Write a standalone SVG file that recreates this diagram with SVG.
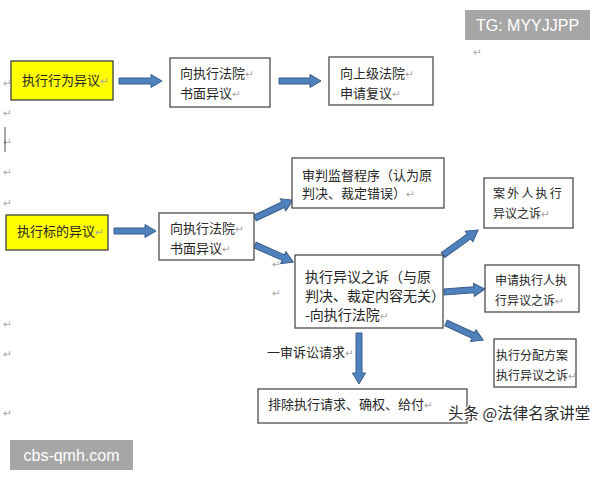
<svg xmlns="http://www.w3.org/2000/svg" width="600" height="480" viewBox="0 0 600 480">
<style>
.bg{fill:#ffffff}
.box{fill:#ffffff;stroke:#4d4d4d;stroke-width:1.3}
.ybox{fill:#ffff00;stroke:#404040;stroke-width:1.3}
.t{font-family:"Noto Sans CJK SC","Liberation Serif",serif;fill:#262626;font-size:13px}
.s{font-size:12px}
.b{font-size:14px}
.pm{font-family:"DejaVu Sans",sans-serif;font-size:10.5px;fill:#a6a6a6}
.arr{fill:#4f81bd;stroke:#385d8a;stroke-width:1}
.wm{fill:#a6a6a6}
.wmt{font-family:"Liberation Sans",Arial,sans-serif;fill:#ffffff;font-size:16px}
.tt{font-family:"Noto Sans CJK SC",sans-serif;font-size:15.5px;fill:#2b2b2b;stroke:#ffffff;stroke-width:2;paint-order:stroke}
</style>
<rect class="bg" x="0" y="0" width="600" height="480"/>

<g id="marks">
<text class="pm" x="3" y="87">↵</text>
<text class="pm" x="3" y="117">↵</text>
<text class="pm" x="3" y="146">↵</text>
<line x1="5" y1="127" x2="5" y2="152" stroke="#555" stroke-width="1"/>
<text class="pm" x="3" y="176">↵</text>
<text class="pm" x="3" y="207">↵</text>
<text class="pm" x="3" y="328">↵</text>
<text class="pm" x="3" y="358">↵</text>
<text class="pm" x="3" y="417">↵</text>
<text class="pm" x="473" y="56">↵</text>
<text class="pm" x="272" y="268">↵</text>
<text class="pm" x="272" y="297">↵</text>
</g>

<g id="connectors">
<polygon class="arr" transform="translate(119,81)" points="0,-3 32,-3 32,-6.5 43,0 32,6.5 32,3 0,3"/>
<polygon class="arr" transform="translate(279,81)" points="0,-3 31,-3 31,-6.5 42,0 31,6.5 31,3 0,3"/>
<polygon class="arr" transform="translate(114,231)" points="0,-3 31,-3 31,-6.5 42,0 31,6.5 31,3 0,3"/>
<polygon class="arr" transform="translate(255,218) rotate(-25.3)" points="0,-3 31,-3 31,-6.5 42,0 31,6.5 31,3 0,3"/>
<polygon class="arr" transform="translate(255,245) rotate(24.1)" points="0,-3 31,-3 31,-6.5 42,0 31,6.5 31,3 0,3"/>
<polygon class="arr" transform="translate(443,255) rotate(-35.5)" points="0,-3 32,-3 32,-6.5 43,0 32,6.5 32,3 0,3"/>
<polygon class="arr" transform="translate(444,292) rotate(-4.2)" points="0,-3 30,-3 30,-6.5 41,0 30,6.5 30,3 0,3"/>
<polygon class="arr" transform="translate(446,323) rotate(24.7)" points="0,-3 30,-3 30,-6.5 41,0 30,6.5 30,3 0,3"/>
<polygon class="arr" transform="translate(359,333) rotate(90)" points="0,-3 40,-3 40,-6.5 51,0 40,6.5 40,3 0,3"/>
<text class="t" x="267" y="357" font-size="11">一审诉讼请求<tspan class="pm">↵</tspan></text>
</g>

<g id="n1">
<rect class="ybox" x="11" y="61" width="102" height="39"/>
<text class="t" x="22" y="85">执行行为异议<tspan class="pm">↵</tspan></text>
</g>
<g id="n2">
<rect class="box" x="170" y="58" width="100" height="49"/>
<text class="t" x="180" y="78">向执行法院<tspan class="pm">↵</tspan></text>
<text class="t" x="180" y="98">书面异议<tspan class="pm">↵</tspan></text>
</g>
<g id="n3">
<rect class="box" x="329" y="57" width="104" height="48"/>
<text class="t" x="340" y="78">向上级法院<tspan class="pm">↵</tspan></text>
<text class="t" x="340" y="98">申请复议<tspan class="pm">↵</tspan></text>
</g>
<g id="n4">
<rect class="ybox" x="6" y="215" width="102" height="35"/>
<text class="t" x="17" y="236">执行标的异议<tspan class="pm">↵</tspan></text>
</g>
<g id="n5">
<rect class="box" x="159" y="213" width="95" height="47"/>
<text class="t" x="170" y="233">向执行法院<tspan class="pm">↵</tspan></text>
<text class="t" x="170" y="253">书面异议<tspan class="pm">↵</tspan></text>
</g>
<g id="n6">
<rect class="box" x="292" y="158" width="152" height="50"/>
<text class="t" x="302" y="180">审判监督程序（认为原</text>
<text class="t" x="302" y="198">判决、裁定错误）<tspan class="pm">↵</tspan></text>
</g>
<g id="n7">
<rect class="box" x="295" y="255" width="148" height="73"/>
<text class="t b" x="305" y="282">执行异议之诉（与原</text>
<text class="t b" x="305" y="301">判决、裁定内容无关）</text>
<text class="t b" x="305" y="320">-向执行法院<tspan class="pm">↵</tspan></text>
</g>
<g id="n8">
<rect class="box" x="484" y="178" width="89" height="50"/>
<text class="t s" x="493" y="198" letter-spacing="2.2">案外人执行</text>
<text class="t s" x="493" y="218">异议之诉<tspan class="pm">↵</tspan></text>
</g>
<g id="n9">
<rect class="box" x="485" y="265" width="94" height="47"/>
<text class="t s" x="495" y="285">申请执行人执</text>
<text class="t s" x="495" y="305">行异议之诉<tspan class="pm">↵</tspan></text>
</g>
<g id="n10">
<rect class="box" x="494" y="339" width="82" height="48"/>
<text class="t s" x="496" y="360">执行分配方案</text>
<text class="t s" x="496" y="380">执行异议之诉<tspan class="pm">↵</tspan></text>
</g>
<g id="n11">
<rect class="box" x="258" y="389" width="209" height="34"/>
<text class="t" x="268" y="409">排除执行请求、确权、给付<tspan class="pm">↵</tspan></text>
</g>

<g id="watermarks">
<rect class="wm" x="465" y="10" width="125" height="30"/>
<text class="wmt" x="527.5" y="31" text-anchor="middle">TG: MYYJJPP</text>
<rect class="wm" x="10" y="440" width="123" height="30"/>
<text class="wmt" x="71.5" y="461" text-anchor="middle" font-size="17">cbs-qmh.com</text>
<text class="tt" x="448" y="419">头条 @法律名家讲堂</text>
</g>
</svg>
